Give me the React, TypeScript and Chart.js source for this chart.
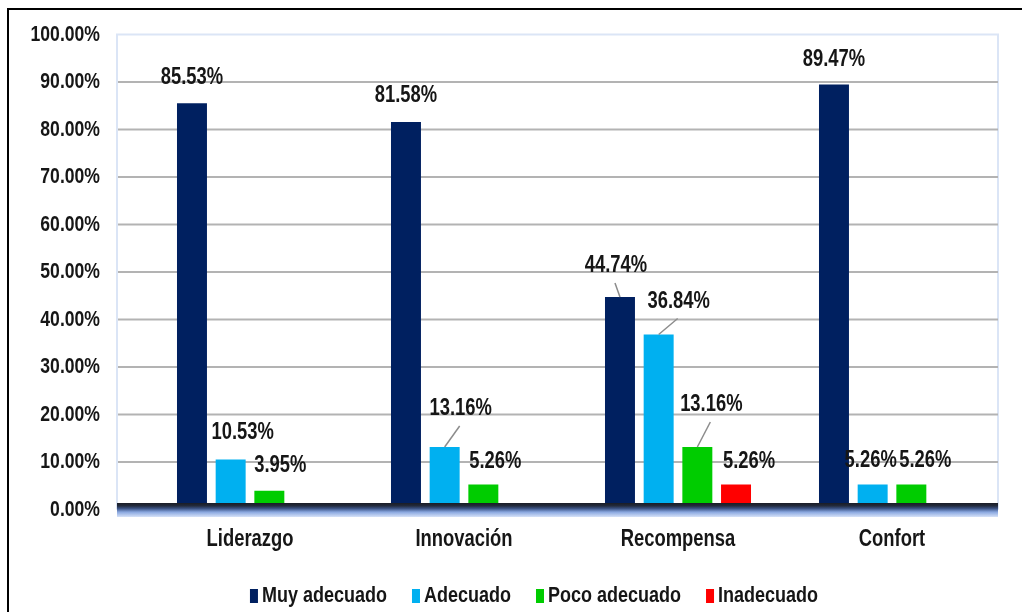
import { useEffect, useRef } from "react";
import { Chart, registerables } from "chart.js";

Chart.register(...registerables);

const categories = ["Liderazgo", "Innovación", "Recompensa", "Confort"];
const seriesNames = ["Muy adecuado", "Adecuado", "Poco adecuado", "Inadecuado"];
const muyAdecuado = [85.53, 81.58, 44.74, 89.47];
const adecuado = [10.53, 13.16, 36.84, 5.26];
const pocoAdecuado = [3.95, 5.26, 13.16, 5.26];
const inadecuado: (number | null)[] = [null, null, 5.26, null];
const yTickValues = [0, 10, 20, 30, 40, 50, 60, 70, 80, 90, 100];
const seriesColors = ["#002060", "#00B0F0", "#00CC00", "#FF0000"];

// label nudges (dx, dy) from the bar's top centre, per series, per category
const labelOffsets = [
  [[0, -26], [0, -26], [-4, -31], [0, -25]],
  [[12, -27], [16, -38], [20, -33], [-2, -24]],
  [[11, -25], [12, -23], [14, -42], [14, -24]],
  [[0, 0], [0, 0], [13, -23], [0, 0]],
];
const leaderLines = [
  [false, false, true, false],
  [false, true, true, false],
  [false, false, true, false],
  [false, false, false, false],
];

const FONT = '"Liberation Sans", Arial, sans-serif';
const NARROW = 0.8; // horizontal squeeze to imitate Arial Narrow
const TEXT = "#161616";

function narrowText(ctx: CanvasRenderingContext2D, s: string, x: number, y: number) {
  const w = ctx.measureText(s).width;
  ctx.fillText(s, x, y, w * NARROW);
  return w * NARROW;
}

const decorPlugin = {
  id: "decor",
  beforeDraw(chart: any) {
    const { ctx, width, height } = chart;
    ctx.save();
    ctx.fillStyle = "#ffffff";
    ctx.fillRect(0, 0, width, height);
    ctx.fillStyle = "#000000";
    ctx.fillRect(7, 8, 2, height - 8);
    ctx.fillRect(7, 8, width - 7, 2);
    ctx.restore();
  },
  beforeDatasetsDraw(chart: any) {
    const { ctx, chartArea, scales } = chart;
    const y = scales.y;
    const wallLeft = chartArea.left - 26;
    const wallRight = chartArea.right - 1;
    ctx.save();
    ctx.strokeStyle = "#dbe5f6";
    ctx.lineWidth = 2;
    ctx.beginPath();
    ctx.moveTo(wallLeft, y.getPixelForValue(0));
    ctx.lineTo(wallLeft, chartArea.top);
    ctx.lineTo(wallRight, chartArea.top);
    ctx.lineTo(wallRight, y.getPixelForValue(0));
    ctx.stroke();
    ctx.strokeStyle = "#b3b3b3";
    ctx.lineWidth = 2;
    yTickValues.forEach((v) => {
      if (v === 0 || v === 100) return;
      const py = y.getPixelForValue(v);
      ctx.beginPath();
      ctx.moveTo(wallLeft + 1, py);
      ctx.lineTo(wallRight, py);
      ctx.stroke();
    });
    ctx.restore();
  },
  afterDatasetsDraw(chart: any) {
    const { ctx, chartArea, scales } = chart;
    const y = scales.y;
    const x = scales.x;
    const y0 = y.getPixelForValue(0);
    const wallLeft = chartArea.left - 26;
    const wallRight = chartArea.right - 1;
    ctx.save();
    // floor
    const top = y0 - 6.5;
    const bottom = y0 + 7.5;
    const g = ctx.createLinearGradient(0, top, 0, bottom);
    g.addColorStop(0, "#1a1d26");
    g.addColorStop(0.2, "#222a3c");
    g.addColorStop(0.4, "#3c5486");
    g.addColorStop(0.65, "#8aa8e0");
    g.addColorStop(1, "#d6e2f8");
    ctx.fillStyle = g;
    ctx.fillRect(wallLeft, top, wallRight - wallLeft, bottom - top);

    ctx.fillStyle = TEXT;
    ctx.textBaseline = "middle";

    // y tick labels
    ctx.font = `bold 22px ${FONT}`;
    ctx.textAlign = "right";
    yTickValues.forEach((v) => {
      narrowText(ctx, v.toFixed(2) + "%", chartArea.left - 43, y.getPixelForValue(v));
    });

    // category labels
    ctx.font = `bold 23px ${FONT}`;
    ctx.textAlign = "center";
    categories.forEach((c, i) => {
      narrowText(ctx, c, x.getPixelForValue(i), y0 + 30.5);
    });

    // data labels
    ctx.font = `bold 23px ${FONT}`;
    ctx.textAlign = "center";
    chart.data.datasets.forEach((ds: any, si: number) => {
      const meta = chart.getDatasetMeta(si);
      meta.data.forEach((bar: any, ci: number) => {
        const v = ds.data[ci];
        if (v === null || v === undefined) return;
        const [dx, dy] = labelOffsets[si][ci];
        const lx = bar.x + dx;
        const ly = bar.y + dy;
        if (leaderLines[si][ci]) {
          ctx.strokeStyle = "#8c8c8c";
          ctx.lineWidth = 1.5;
          ctx.beginPath();
          ctx.moveTo(lx - 1, ly + 17);
          ctx.lineTo(bar.x, bar.y);
          ctx.stroke();
        }
        ctx.fillStyle = TEXT;
        narrowText(ctx, v.toFixed(2) + "%", lx, ly);
      });
    });

    // legend
    ctx.font = `bold 22.5px ${FONT}`;
    ctx.textAlign = "left";
    const boxW = 8;
    const boxH = 14;
    const gap = 4;
    const itemGap = 25;
    const widths = seriesNames.map((n) => boxW + gap + ctx.measureText(n).width * NARROW);
    const total = widths.reduce((a, b) => a + b, 0) + itemGap * (seriesNames.length - 1);
    const cy = 596;
    let lx = 534 - total / 2;
    seriesNames.forEach((n, i) => {
      ctx.fillStyle = seriesColors[i];
      ctx.fillRect(lx, cy - boxH / 2, boxW, boxH);
      ctx.fillStyle = TEXT;
      narrowText(ctx, n, lx + boxW + gap, cy);
      lx += widths[i] + itemGap;
    });
    ctx.restore();
  },
};

export default function App() {
  const ref = useRef<HTMLCanvasElement | null>(null);
  useEffect(() => {
    if (!ref.current) return;
    const seriesData = [muyAdecuado, adecuado, pocoAdecuado, inadecuado];
    const chart = new Chart(ref.current, {
      type: "bar",
      data: {
        labels: categories,
        datasets: seriesNames.map((name, i) => ({
          label: name,
          data: seriesData[i] as any,
          backgroundColor: seriesColors[i],
          borderWidth: 0,
          categoryPercentage: 0.723,
          barPercentage: 0.775,
        })),
      },
      options: {
        animation: false,
        responsive: true,
        maintainAspectRatio: false,
        layout: { padding: { left: 0, right: 23, top: 34.5, bottom: 0 } },
        plugins: {
          legend: { display: false },
          tooltip: { enabled: false },
        },
        scales: {
          x: {
            grid: { display: false, drawTicks: false },
            border: { display: false },
            ticks: { display: false },
            afterFit: (s: any) => {
              s.height = 102.5;
            },
          },
          y: {
            min: 0,
            max: 100,
            grid: { display: false, drawTicks: false },
            border: { display: false },
            ticks: { display: false, stepSize: 10 },
            afterFit: (s: any) => {
              s.width = 143;
            },
          },
        },
      },
      plugins: [decorPlugin],
    });
    return () => chart.destroy();
  }, []);
  return (
    <div style={{ position: "absolute", left: 0, top: 0, width: 1022, height: 612 }}>
      <canvas ref={ref} />
    </div>
  );
}
